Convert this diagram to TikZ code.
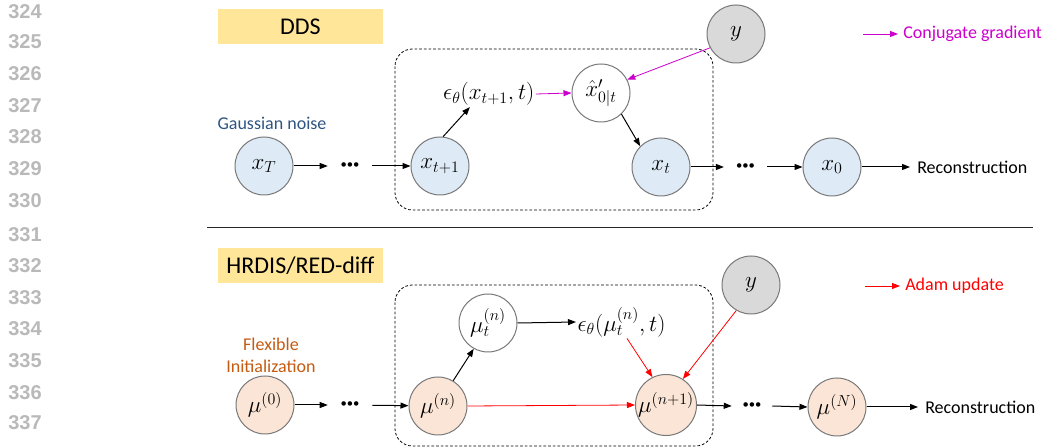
\documentclass[tikz,border=0pt]{standalone}
\usepackage[no-math]{fontspec}
\setmainfont{Carlito}
\newfontfamily\numfont{Liberation Sans}
\usetikzlibrary{arrows.meta,calc}
\definecolor{nodeblue}{RGB}{222,235,247}
\definecolor{nodeorange}{RGB}{251,229,214}
\definecolor{nodegray}{RGB}{217,217,217}
\definecolor{ringgray}{RGB}{120,120,120}
\definecolor{titleyellow}{RGB}{255,230,153}
\definecolor{noiseblue}{RGB}{47,85,130}
\definecolor{initorange}{RGB}{197,90,17}
\definecolor{cgmagenta}{RGB}{204,0,204}
\definecolor{adamred}{RGB}{255,0,0}
\definecolor{numgray}{RGB}{185,185,185}
\begin{document}
\begin{tikzpicture}[x=0.75pt,y=-0.75pt,
  var/.style={circle, draw=ringgray, line width=0.75pt, minimum size=43.5pt, inner sep=0pt, font=\fontsize{17.5}{20}\selectfont},
  bluevar/.style={var, fill=nodeblue},
  orangevar/.style={var, fill=nodeorange},
  obsvar/.style={var, fill=nodegray},
  freevar/.style={var, fill=white},
  mathlbl/.style={inner sep=1pt, font=\fontsize{17.5}{20}\selectfont},
  lbl/.style={inner sep=1pt, font=\fontsize{13.5}{16.5}\selectfont},
  titlebox/.style={fill=titleyellow, minimum width=123.75pt, minimum height=26.25pt, inner sep=0pt, font=\fontsize{18}{21}\selectfont},
  dotsnode/.style={minimum width=#1, inner sep=0pt, font=\fontsize{9.5}{11}\selectfont},
  linenum/.style={font=\numfont\bfseries\fontsize{15}{17}\selectfont, text=numgray, inner sep=0pt},
  conn/.style={line width=0.75pt, -{Triangle[length=6pt,width=4.5pt]}},
  cgconn/.style={conn, draw=cgmagenta, line width=0.6pt},
  adamconn/.style={conn, draw=adamred, line width=0.6pt},
  dashbox/.style={draw=black, line width=0.6pt, dash pattern=on 2pt off 1.5pt, rounded corners=13pt}
]
\useasboundingbox (0,0) rectangle (1049,448);

% line numbers
\foreach \n/\yy in {324/12,325/42,326/74,327/106,328/137,329/169,330/201,331/235,332/266,333/298,334/329,335/361,336/393,337/423}
  \node[linenum] (ln\n) at (25,\yy) {\n};

% ---------------- DDS ----------------
\node[titlebox] (dds) at (300.5,26.5) {DDS};
\draw[dashbox] (395,49) rectangle (713,210);

\node[lbl, text=noiseblue] (noise) at (272,123) {Gaussian noise};
\node[bluevar] (xT) at (264,166) {$x_T$};
\node[dotsnode=33pt] (d1) at (350,166) {•••};
\node[bluevar] (xtp) at (440,166) {$x_{t+1}$};
\node[mathlbl, anchor=east] (eps1) at (536,94) {$\epsilon_\theta(x_{t+1},t)$};
\node[freevar] (xhat) at (601,93) {$\hat{x}'_{0|t}$};
\node[obsvar] (ytop) at (736,34) {$y$};
\node[bluevar] (xt) at (661,167) {$x_t$};
\node[dotsnode=32pt] (d2) at (745.5,167) {•••};
\node[bluevar] (x0) at (832,167) {$x_0$};
\node[lbl, anchor=west, inner xsep=5.25pt] (rec1) at (910,167) {Reconstruction};

\draw[conn] (xT) -- (d1);
\draw[conn] (d1) -- (xtp);
\draw[conn] (xtp.84) -- ($(eps1.south west)!0.3!(eps1.south east)$);
\draw[cgconn] (eps1.east) -- (xhat.west);
\draw[cgconn] (ytop.208) -- (xhat.27);
\draw[conn] (xhat.314) -- (xt.135);
\draw[conn] (xt) -- (d2);
\draw[conn] (d2) -- (x0);
\draw[conn] (x0.east) -- (rec1.west);

\coordinate (cgstart) at (863,34);
\node[lbl, text=cgmagenta, anchor=west, inner xsep=3.75pt] (cglabel) at (898,34) {Conjugate gradient};
\draw[cgconn] (cgstart) -- (cglabel.west);

% separator
\draw[line width=0.75pt, black!85] (207,228) -- (1033,228);

% ---------------- HRDIS / RED-diff ----------------
\node[titlebox] (hrd) at (300.5,265.5) {HRDIS/RED-diff};
\draw[dashbox] (395,285) rectangle (713,446);

\node[lbl, text=initorange, align=center] (flex) at (271,355) {Flexible\\Initialization};
\node[orangevar] (mu0) at (265,405) {$\mu^{(0)}$};
\node[dotsnode=33pt] (d3) at (350,405) {•••};
\node[orangevar] (mun) at (438,406) {$\mu^{(n)}$};
\node[freevar] (mut) at (488,323) {$\mu_t^{(n)}$};
\node[mathlbl, anchor=west] (eps2) at (576,322) {$\epsilon_\theta(\mu_t^{(n)},t)$};
\node[obsvar] (ybot) at (751,285) {$y$};
\node[orangevar] (mun1) at (666,405) {$\mu^{(n+1)}$};
\node[dotsnode=30pt] (d4) at (752,406) {•••};
\node[orangevar] (muN) at (837,407) {$\mu^{(N)}$};
\node[lbl, anchor=west, inner xsep=5.25pt] (rec2) at (918,407) {Reconstruction};

\draw[conn] (mu0) -- (d3);
\draw[conn] (d3) -- (mun);
\draw[conn] (mun.59) -- (mut.241);
\draw[conn] (mut.east) -- (eps2.west);
\draw[adamconn] ($(eps2.south west)!0.56!(eps2.south east)$) -- (mun1.116);
\draw[adamconn] (ybot.240) -- (mun1.57);
\draw[adamconn] (mun.east) -- (mun1.west);
\draw[conn] (mun1.east) -- (d4.west);
\draw[conn] (d4.east) -- (muN.west);
\draw[conn] (muN.east) -- (rec2.west);

\coordinate (adstart) at (865,286);
\node[lbl, text=adamred, anchor=west, inner xsep=3.75pt] (adlabel) at (900,286) {Adam update};
\draw[adamconn] (adstart) -- (adlabel.west);
\end{tikzpicture}
\end{document}
